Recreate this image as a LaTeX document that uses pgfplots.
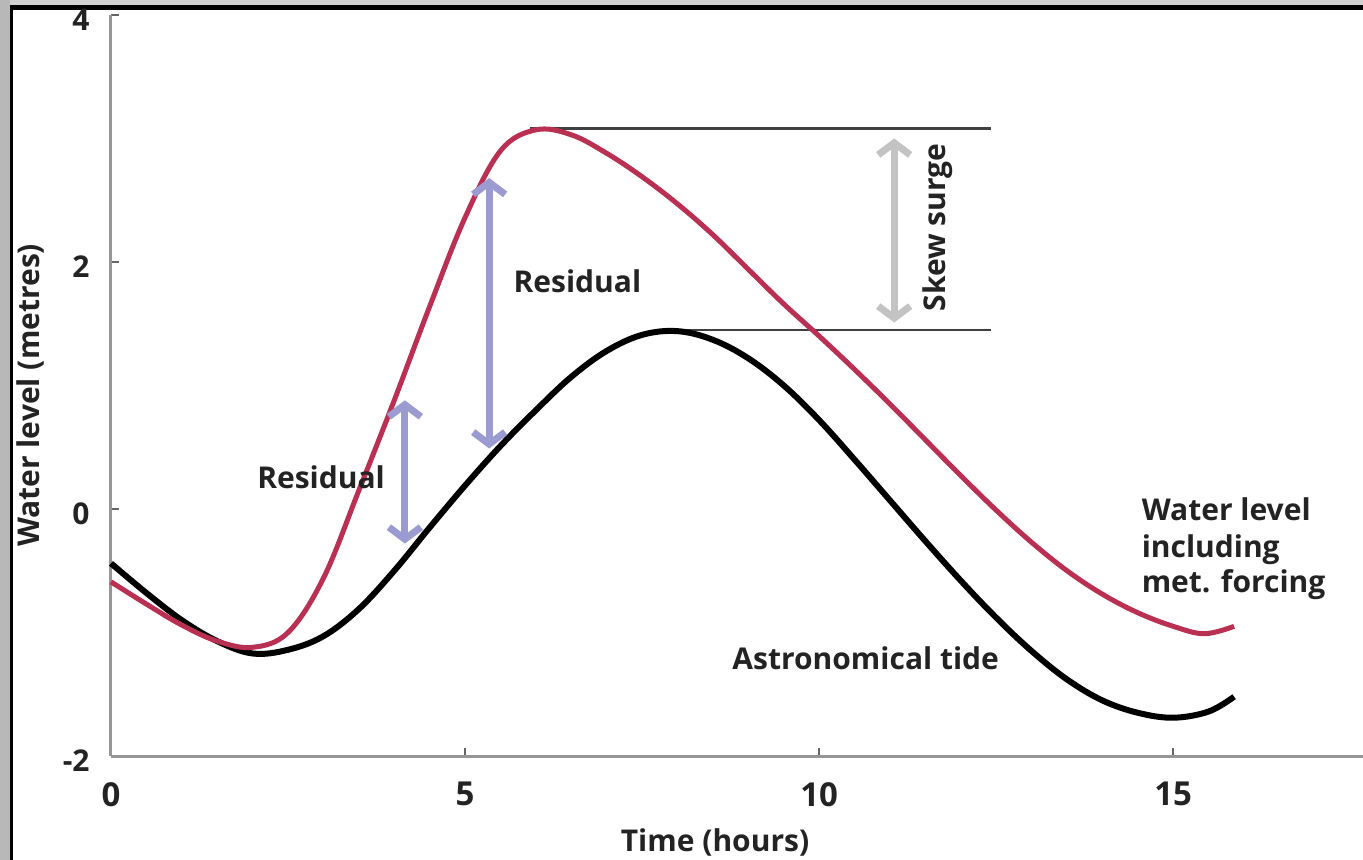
\documentclass[border=0pt]{standalone}
\usepackage{fontspec}
\setmainfont{Open Sans}
\usepackage{pgfplots}
\pgfplotsset{compat=1.18}
\usetikzlibrary{arrows.meta}
\definecolor{surge}{RGB}{185,48,82}
\definecolor{resid}{RGB}{155,155,210}
\definecolor{skew}{RGB}{195,195,195}
\definecolor{axgray}{RGB}{150,150,150}
\definecolor{txt}{RGB}{35,35,35}
\begin{document}
\begin{tikzpicture}[font=\fontsize{15bp}{18.5bp}\selectfont\bfseries]
\useasboundingbox (-55.5bp,-52bp) rectangle (626bp,378bp);
\fill[black!28] (-55.5bp,-52bp) rectangle (-50.5bp,378bp);
\fill[black] (-50.5bp,-52bp) rectangle (-49bp,378bp);
\fill[black!18] (-50.5bp,375.5bp) rectangle (626bp,378bp);
\fill[black] (-50.5bp,373bp) rectangle (626bp,375.5bp);
\begin{axis}[scale only axis, width=626bp, height=370.5bp,
 xmin=0, xmax=17.68, ymin=-2, ymax=4,
 axis lines=left, axis line style={-, axgray, line width=1.5bp},
 tick align=inside, major tick length=4bp, tick style={black!60, line width=0.8bp},
 xtick={0,5,10,15}, xticklabels={0,5,10,15},
 ytick={-2,0,2,4}, yticklabels={-2,0,2,\raisebox{-3bp}{4}},
 xticklabel style={anchor=north, inner sep=0pt, yshift=-13bp, font=\fontsize{16.5bp}{20bp}\selectfont\bfseries, text=txt},
 yticklabel style={anchor=east, inner sep=0pt, xshift=-10.5bp, yshift=-2.5bp, font=\fontsize{15bp}{18bp}\selectfont\bfseries, text=txt},
 clip=false]
% skew surge reference lines
\addplot[black!75, line width=1.2bp] coordinates {(5.92,3.08) (12.42,3.08)};
\addplot[black!75, line width=1.2bp] coordinates {(7.75,1.45) (12.42,1.45)};
% astronomical tide
\addplot[black, line width=3bp, smooth, tension=0.6] coordinates {
(0,-0.44) (0.5,-0.68) (1.0,-0.90) (1.5,-1.07) (2.0,-1.17) (2.5,-1.14) (3.0,-1.03)
(3.5,-0.81) (4.0,-0.50) (4.5,-0.15) (5.0,0.19) (5.5,0.51) (6.0,0.80) (6.5,1.07)
(7.0,1.28) (7.5,1.41) (8.0,1.44) (8.5,1.37) (9.0,1.22) (9.5,1.00) (10.0,0.72)
(10.5,0.40) (11.0,0.07) (11.5,-0.26) (12.0,-0.58) (12.5,-0.88) (13.0,-1.15)
(13.5,-1.38) (14.0,-1.55) (14.5,-1.65) (15.0,-1.69) (15.5,-1.64) (15.86,-1.52)};
% water level including met. forcing
\addplot[surge, line width=2.5bp, smooth, tension=0.6] coordinates {
(0,-0.59) (0.5,-0.77) (1.0,-0.94) (1.5,-1.07) (2.0,-1.12) (2.5,-1.00) (3.0,-0.56)
(3.5,0.15) (4.0,0.88) (4.5,1.64) (5.0,2.36) (5.5,2.90) (6.0,3.07) (6.5,3.03)
(7.0,2.88) (7.5,2.69) (8.0,2.47) (8.5,2.22) (9.0,1.94) (9.5,1.66) (10.0,1.40)
(10.5,1.13) (11.0,0.85) (11.5,0.56) (12.0,0.27) (12.5,-0.01) (13.0,-0.27)
(13.5,-0.50) (14.0,-0.69) (14.5,-0.84) (15.0,-0.95) (15.44,-1.01) (15.86,-0.95)};
% arrows
\addplot[resid, line width=3.5bp, {Straight Barb[length=6bp,width=16bp]}-{Straight Barb[length=6bp,width=16bp]}] coordinates {(5.34,2.68) (5.34,0.49)};
\addplot[resid, line width=3.5bp, {Straight Barb[length=6bp,width=16bp]}-{Straight Barb[length=6bp,width=16bp]}] coordinates {(4.15,0.88) (4.15,-0.28)};
\addplot[skew, line width=3.5bp, {Straight Barb[length=6bp,width=16bp]}-{Straight Barb[length=6bp,width=16bp]}] coordinates {(11.06,3.0) (11.06,1.51)};
% labels
\node[anchor=base west, inner sep=0pt, text=txt] at (axis cs:5.68,1.75) {Residual};
\node[anchor=base west, inner sep=0pt, text=txt] at (axis cs:2.06,0.17) {Residual};
\node[anchor=base west, inner sep=0pt, text=txt] at (axis cs:8.77,-1.30) {Astronomical tide};
\node[anchor=base west, inner sep=0pt, text=txt] at (axis cs:14.55,-0.09) {Water level};
\node[anchor=base west, inner sep=0pt, text=txt] at (axis cs:14.55,-0.39) {including};
\node[anchor=base west, inner sep=0pt, text=txt] at (axis cs:14.55,-0.68) {met. forcing};
\node[rotate=90, inner sep=0pt, text=txt] at (axis cs:11.67,2.28) {Skew surge};
\node[inner sep=0pt, text=txt] at (axis cs:8.53,-2.70) {Time (hours)};
\node[rotate=90, inner sep=0pt, text=txt] at (axis cs:-1.144,0.92) {Water level (metres)};
\end{axis}
\end{tikzpicture}
\end{document}
